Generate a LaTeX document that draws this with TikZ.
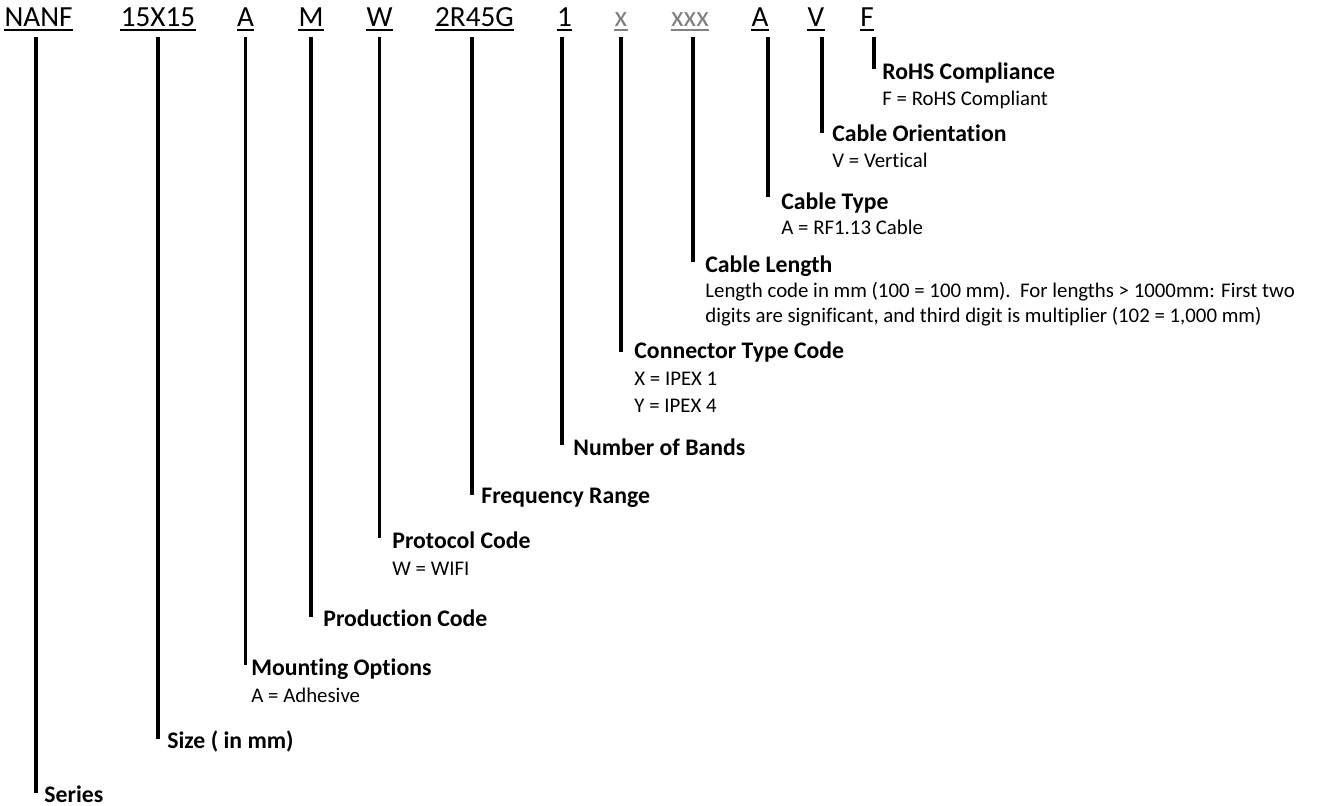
\documentclass[tikz,border=0pt]{standalone}
\usepackage{fontspec}
\setmainfont{Carlito}[Ligatures=NoCommon]
\usetikzlibrary{positioning}
\definecolor{codegray}{RGB}{128,128,128}
\tikzset{%
	code/.style   = {font=\fontsize{14}{17}\selectfont, inner sep=0pt, anchor=base}, % Part number field
	spare/.style  = {code, text=codegray}, % Placeholder field
	field/.style  = {font=\fontsize{11.4}{13}\selectfont\bfseries, inner sep=0pt, anchor=base west}, % Field name
	option/.style = {font=\fontsize{10}{12}\selectfont, inner sep=0pt, anchor=base west}, % Field value
	stem/.style   = {line width=1.9pt},
	uline/.style  = {line width=0.95pt},
}

\begin{document}
\begin{tikzpicture}[x=0.48pt, y=-0.48pt]
	\useasboundingbox (0,0) rectangle (1320,806);
	% part number
	\node[code] (ser) at (38.5,27) {NANF};
	\node[code] (siz) at (158,27) {15X15};
	\node[code] (mnt) at (245.5,27) {A};
	\node[code] (prd) at (311,27) {M};
	\node[code] (prt) at (379.5,27) {W};
	\node[code] (frq) at (474.5,27) {2R45G};
	\node[code] (bnd) at (564.5,27) {1};
	\node[spare] (con) at (621,27) {x};
	\node[spare] (len) at (690,27) {xxx};
	\node[code] (typ) at (760,27) {A};
	\node[code] (ori) at (816,27) {V};
	\node[code] (roh) at (867,27) {F};
	\foreach \c in {ser,siz,mnt,prd,prt,frq,bnd,typ,ori,roh}
		\draw[uline] ([yshift=-1.3pt]\c.base west) -- ([yshift=-1.3pt]\c.base east);
	\foreach \c in {con,len}
		\draw[uline,codegray] ([yshift=-1.3pt]\c.base west) -- ([yshift=-1.3pt]\c.base east);
	% field names
	\node[field] (serL) at (44,802) {Series};
	\node[field] (sizL) at (167,748) {Size ( in mm)};
	\node[field] (mntL) at (251,675) {Mounting Options};
	\node[option] (mntA) at (251,702) {A = Adhesive};
	\node[field] (prdL) at (323,626) {Production Code};
	\node[field] (prtL) at (392,548) {Protocol Code};
	\node[option] (prtA) at (392,575) {W = WIFI};
	\node[field] (frqL) at (481,503) {Frequency Range};
	\node[field] (bndL) at (573,455) {Number of Bands};
	\node[field] (conL) at (634,358) {Connector Type Code};
	\node[option] (conA) at (634,385) {X = IPEX 1};
	\node[option] (conB) at (634,412) {Y = IPEX 4};
	\node[field] (lenL) at (705,272) {Cable Length};
	\node[option] (lenA) at (705,297) {Length code in mm (100 = 100~mm).\ \ For lengths > 1000mm: First two};
	\node[option] (lenB) at (705,322) {digits are significant, and third digit is multiplier (102 = 1,000~mm)};
	\node[field] (typL) at (781,209) {Cable Type};
	\node[option] (typA) at (781,235) {A = RF1.13 Cable};
	\node[field] (oriL) at (832,142) {Cable Orientation};
	\node[option] (oriA) at (832,168) {V = Vertical};
	\node[field] (rohL) at (882,80) {RoHS Compliance};
	\node[option] (rohA) at (882,106) {F = RoHS Compliant};
	% stems
	\draw[stem] ([xshift=-1pt,yshift=-4.8pt]ser.base) -- ([xshift=-1pt,yshift=4.4pt]ser.base |- serL.base west);
	\draw[stem] ([yshift=-4.8pt]siz.base) -- ([yshift=4.4pt]siz.base |- sizL.base west);
	\draw[stem] ([yshift=-4.8pt]mnt.base) -- ([yshift=4.6pt]mnt.base |- mntL.base west);
	\draw[stem] ([yshift=-4.8pt]prd.base) -- ([yshift=4.4pt]prd.base |- prdL.base west);
	\draw[stem] ([yshift=-4.8pt]prt.base) -- ([yshift=4.8pt]prt.base |- prtL.base west);
	\draw[stem] ([xshift=-1.2pt,yshift=-4.8pt]frq.base) -- ([xshift=-1.2pt,yshift=4pt]frq.base |- frqL.base west);
	\draw[stem] ([xshift=-1pt,yshift=-4.8pt]bnd.base) -- ([xshift=-1pt,yshift=4.8pt]bnd.base |- bndL.base west);
	\draw[stem] ([yshift=-4.8pt]con.base) -- ([yshift=3pt]con.base |- conL.base west);
	\draw[stem] ([xshift=1.4pt,yshift=-4.8pt]len.base) -- ([xshift=1.4pt,yshift=4.8pt]len.base |- lenL.base west);
	\draw[stem] ([xshift=3.8pt,yshift=-4.8pt]typ.base) -- ([xshift=3.8pt,yshift=5.6pt]typ.base |- typL.base west);
	\draw[stem] ([xshift=2.9pt,yshift=-4.8pt]ori.base) -- ([xshift=2.9pt,yshift=4.4pt]ori.base |- oriL.base west);
	\draw[stem] ([xshift=3.2pt,yshift=-4.8pt]roh.base) -- ([xshift=3.2pt,yshift=5.3pt]roh.base |- rohL.base west);
\end{tikzpicture}
\end{document}
